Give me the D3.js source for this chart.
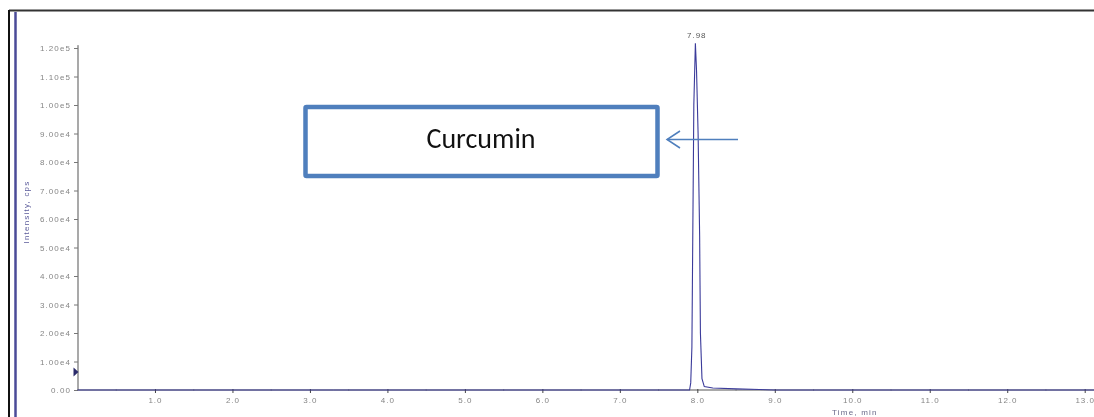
<!DOCTYPE html>
<html>
<head>
<meta charset="utf-8">
<script src="https://cdn.jsdelivr.net/npm/d3@7"></script>
<style>
  html, body { margin: 0; padding: 0; background: #fff; }
  svg { display: block; }
</style>
</head>
<body>
<svg id="chart" width="1094" height="417"></svg>
<script>
// Extracted ion chromatogram: retention time (min) vs intensity (cps)
const timeMin = [0.0, 7.90, 7.915, 7.93, 7.955, 7.975, 7.99, 8.01, 8.03, 8.04, 8.06, 8.09, 8.2, 8.5, 8.8, 9.0, 13.2];
const intensityCps = [0, 0, 2500, 15000, 100000, 121700, 112000, 90000, 54000, 20000, 4000, 1200, 700, 400, 150, 0, 0];

const yTicks = [0, 10000, 20000, 30000, 40000, 50000, 60000, 70000, 80000, 90000, 100000, 110000, 120000];
const yTickLabels = ["0.00", "1.00e4", "2.00e4", "3.00e4", "4.00e4", "5.00e4", "6.00e4", "7.00e4", "8.00e4", "9.00e4", "1.00e5", "1.10e5", "1.20e5"];
const xTicks = [1, 2, 3, 4, 5, 6, 7, 8, 9, 10, 11, 12, 13];
const xMinorTicks = [0.5, 1.5, 2.5, 3.5, 4.5, 5.5, 6.5, 7.5, 8.5, 9.5, 10.5, 11.5, 12.5];

const peakApex = { time: 7.98, label: "7.98", intensity: 121700 };
const thresholdCps = 6300;
const compoundName = "Curcumin";

const svg = d3.select("#chart");

const x = d3.scaleLinear().domain([0, 13.12]).range([77.5, 1094]);
const y = d3.scaleLinear().domain([0, 120000]).range([390, 48]);

const tickFont = "Liberation Sans, Arial, sans-serif";

// soft rendering for the instrument-software plot
const defs = svg.append("defs");
defs.append("filter").attr("id", "soft")
  .append("feGaussianBlur").attr("stdDeviation", 0.45);

// outer frame
svg.append("line").attr("x1", 9).attr("x2", 1094).attr("y1", 10.5).attr("y2", 10.5)
  .attr("stroke", "#333").attr("stroke-width", 2);
svg.append("line").attr("x1", 9).attr("x2", 9).attr("y1", 10).attr("y2", 417)
  .attr("stroke", "#111").attr("stroke-width", 2);
svg.append("line").attr("x1", 15.5).attr("x2", 15.5).attr("y1", 12).attr("y2", 417)
  .attr("stroke", "#4b4b98").attr("stroke-width", 2.5);

const plot = svg.append("g").attr("filter", "url(#soft)");

// y axis
const yAxis = d3.axisLeft(y).tickValues(yTicks)
  .tickFormat((d, i) => yTickLabels[i]).tickSize(4).tickPadding(3);
const gy = plot.append("g").attr("transform", "translate(78,0)").call(yAxis);
gy.select(".domain").attr("d", `M0,${y(121000)}V${y(0)}`).attr("stroke", "#555");
gy.selectAll(".tick line").attr("stroke", "#777");
gy.selectAll(".tick text").attr("font-family", tickFont)
  .attr("font-size", 8).attr("letter-spacing", 1.1).attr("fill", "#858585");

// x axis
const xAxis = d3.axisBottom(x).tickValues(xTicks)
  .tickFormat(d3.format(".1f")).tickSize(3).tickPadding(4);
const gx = plot.append("g").attr("transform", `translate(0,${y(0)})`).call(xAxis);
gx.select(".domain").attr("d", `M${x(0)},0H1094`).attr("stroke", "#555");
gx.selectAll(".tick line").attr("stroke", "#444").attr("y1", -1);
gx.selectAll(".tick text").attr("font-family", tickFont)
  .attr("font-size", 8).attr("letter-spacing", 1).attr("fill", "#858585");
gx.selectAll(".minor").data(xMinorTicks).enter().append("line")
  .attr("x1", d => x(d)).attr("x2", d => x(d)).attr("y1", -1).attr("y2", 1)
  .attr("stroke", "#888");

// axis titles
plot.append("text").attr("x", 832).attr("y", 415)
  .attr("font-family", tickFont).attr("font-size", 8).attr("letter-spacing", 1.2)
  .attr("fill", "#6a6a8a").text("Time, min");
plot.append("text").attr("transform", "translate(29,212) rotate(-90)")
  .attr("text-anchor", "middle").attr("font-family", tickFont)
  .attr("font-size", 8).attr("letter-spacing", 1.2)
  .attr("fill", "#5a5a9a").text("Intensity, cps");

// threshold marker on y axis
plot.append("path")
  .attr("d", `M${x(0) - 4},${y(thresholdCps) - 4.5}L${x(0) + 1},${y(thresholdCps)}L${x(0) - 4},${y(thresholdCps) + 4.5}Z`)
  .attr("fill", "#2a2a6a");

// chromatogram trace
const line = d3.line().x((d, i) => x(timeMin[i])).y(d => y(d));
plot.append("path").datum(intensityCps)
  .attr("d", line).attr("fill", "none")
  .attr("stroke", "#3a3a9a").attr("stroke-width", 1.1);

// apex label
plot.append("text").attr("x", x(peakApex.time) + 1).attr("y", 38)
  .attr("text-anchor", "middle").attr("font-family", tickFont)
  .attr("font-size", 8).attr("letter-spacing", 1).attr("fill", "#555").text(peakApex.label);

// compound annotation box and arrow
const note = svg.append("g");
note.append("rect").attr("x", 305.5).attr("y", 107).attr("width", 352).attr("height", 69)
  .attr("fill", "#fff").attr("stroke", "#4f7fbd").attr("stroke-width", 4.5).attr("rx", 1);
note.append("text").attr("x", 481).attr("y", 148)
  .attr("text-anchor", "middle").attr("font-family", "Carlito, Calibri, 'Liberation Sans', sans-serif")
  .attr("font-size", 28).attr("fill", "#111").text(compoundName);
note.append("line").attr("x1", 738).attr("x2", 667).attr("y1", 139.5).attr("y2", 139.5)
  .attr("stroke", "#4f7fbd").attr("stroke-width", 1.5);
note.append("path").attr("d", "M680,131 L667,139.5 L680,148")
  .attr("fill", "none").attr("stroke", "#4f7fbd").attr("stroke-width", 1.5);
</script>
</body>
</html>
